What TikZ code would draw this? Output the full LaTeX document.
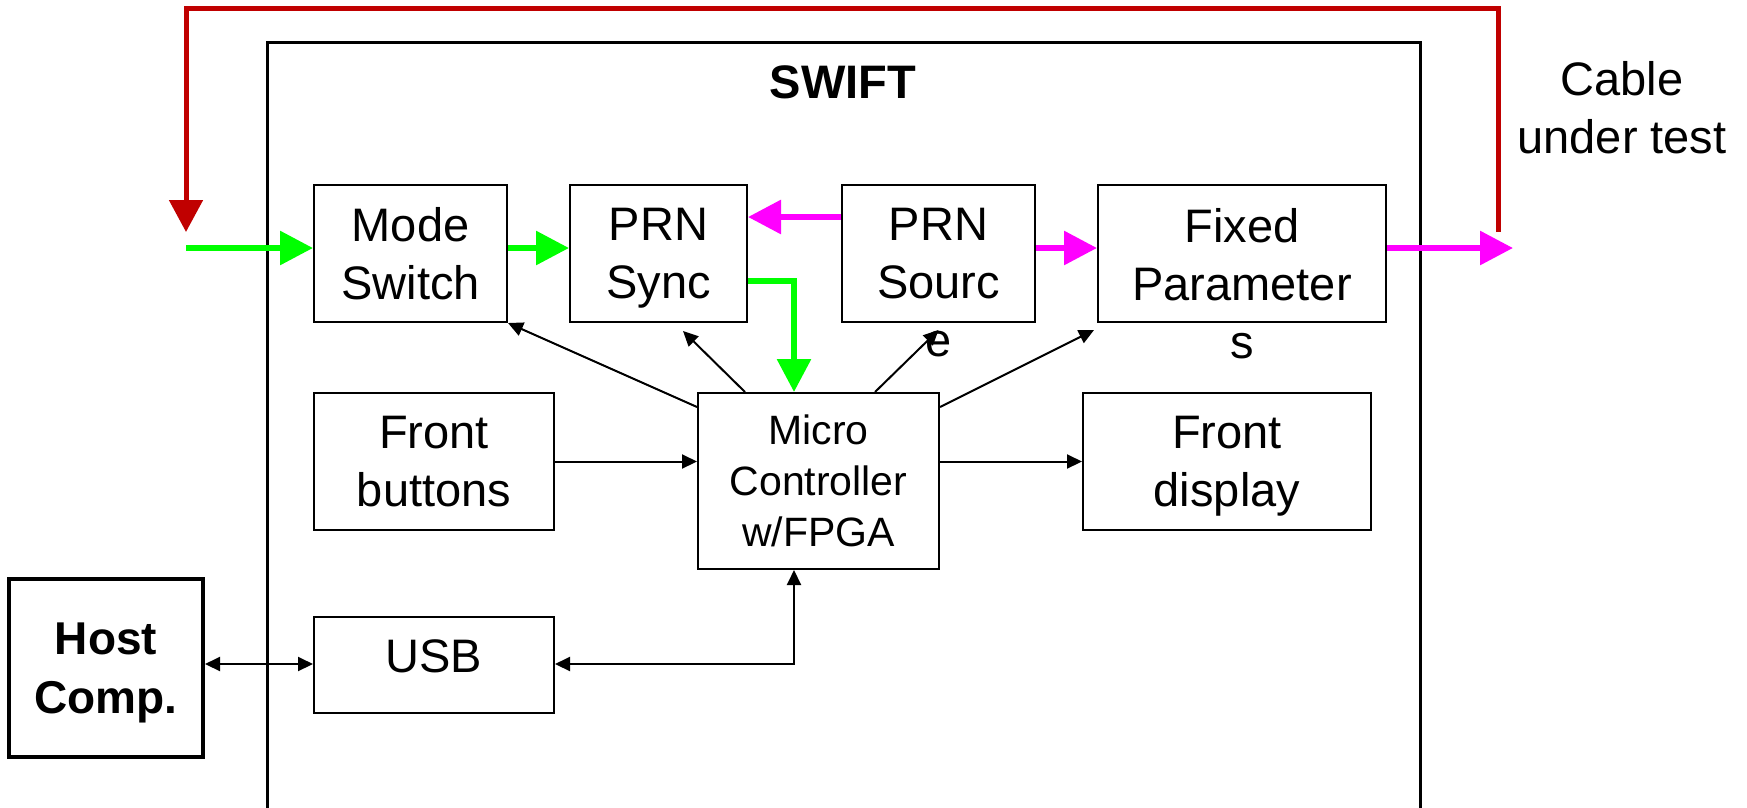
\documentclass[tikz,border=0pt]{standalone}
\usepackage{fontspec}
\setmainfont{Liberation Sans}
\usetikzlibrary{arrows.meta}
\definecolor{cablered}{HTML}{C00000}
\definecolor{sigmag}{HTML}{FF00FF}
\definecolor{siggreen}{HTML}{00FF00}
\begin{document}
\begin{tikzpicture}[x=1pt,y=-1pt,
  box/.style={draw, line width=2pt, inner sep=0pt, align=center, text depth=0pt,
              font=\fontsize{47}{58}\selectfont},
  lbl/.style={inner sep=0pt, align=center, font=\fontsize{47}{58}\selectfont},
  blk/.style={line width=2pt, -{Triangle[length=15pt,width=14pt]}},
  blkboth/.style={line width=2pt, {Triangle[length=15pt,width=14pt]}-{Triangle[length=15pt,width=14pt]}},
  garrow/.style={line width=6pt, siggreen, -{Triangle[length=33pt,width=33pt]}},
  marrow/.style={line width=6pt, sigmag, -{Triangle[length=33pt,width=33pt]}},
  rarrow/.style={line width=5pt, cablered, -{Triangle[length=32pt,width=33pt]}}]
\useasboundingbox (0,0) rectangle (1747,807);
\clip (0,0) rectangle (1747,807);

% SWIFT enclosure (continues below the page edge)
\node[draw, line width=3pt, inner sep=0pt, minimum width=1153pt, minimum height=800pt,
      anchor=north west] (swift) at (266,41) {};
\node[lbl, font=\fontsize{47}{58}\selectfont\bfseries] (swifttxt) at (843,82) {SWIFT};

% blocks
\node[box, minimum width=193pt, minimum height=137pt] (ms)   at (410.5,253.5) {Mode\\Switch};
\node[box, minimum width=177pt, minimum height=137pt] (sync) at (658.5,253.5) {PRN\\Sync};
\node[box, minimum width=193pt, minimum height=137pt] (src)  at (938.5,253.5) {};
\node[lbl, anchor=north] (srctxt) at (938.5,208) {PRN\\Sourc\\e};
\node[box, minimum width=288pt, minimum height=137pt] (fix)  at (1242,253.5) {};
\node[lbl, anchor=north] (fixtxt) at (1242,208) {Fixed\\Parameter\\s};

\node[box, minimum width=240pt, minimum height=137pt] (fb) at (434,461.5) {Front\\buttons};
\node[box, minimum width=241pt, minimum height=176pt,
      font=\fontsize{41}{51}\selectfont] (mc) at (818.5,481) {Micro\\Controller\\w/FPGA};
\node[box, minimum width=288pt, minimum height=137pt] (fd) at (1227,461.5) {Front\\display};
\node[box, minimum width=240pt, minimum height=96pt] (usb) at (434,665) {};
\node[lbl] (usbtxt) at (434,656) {USB};
\node[box, line width=4pt, minimum width=194pt, minimum height=178pt,
      font=\fontsize{46}{59}\selectfont\bfseries] (host) at (106,668) {Host\\Comp.};

\node[lbl] (cable) at (1622,108) {Cable\\under test};

% reference rows / columns for the signal lines
\coordinate (rowA) at (0,217);
\coordinate (rowB) at (0,248);
\coordinate (rowC) at (0,281);
\coordinate (rowD) at (0,664);
\coordinate (colG) at (794,0);
\coordinate (inL)  at (186,248);
\coordinate (loopL) at (186,232);
\coordinate (loopR) at (1498,232);
\coordinate (outR) at (1513,248);

% cable loop
\draw[rarrow] (loopR) -- (1498,8) -- (186,8) -- (loopL);

% green signal path
\draw[garrow] (inL) -- (ms.west |- rowB);
\draw[garrow] (ms.east |- rowB) -- (sync.west |- rowB);
\draw[garrow] (sync.east |- rowC) -| (colG |- mc.north);

% magenta signal path
\draw[marrow] (src.west |- rowA) -- (sync.east |- rowA);
\draw[marrow] (src.east |- rowB) -- (fix.west |- rowB);
\draw[marrow] (fix.east |- rowB) -- (outR);

% control lines from the micro controller
\draw[blk] ([yshift=-15pt]mc.north west) -- (ms.south east);
\draw[blk] ([xshift=48pt]mc.north west) -- ([xshift=24.5pt,yshift=-8pt]sync.south);
\draw[blk] ([xshift=178pt]mc.north west) -- ([yshift=-7pt]src.south);
\draw[blk] ([yshift=-15pt]mc.north east) -- ([xshift=-3pt,yshift=-7pt]fix.south west);
\draw[blk] (fb.east) -- (fb.east -| mc.west);
\draw[blk] (fd.west -| mc.east) -- (fd.west);

% USB links
\draw[blkboth] (host.east |- rowD) -- (usb.west |- rowD);
\draw[blkboth] (colG |- mc.south) |- (usb.east |- rowD);
\end{tikzpicture}
\end{document}
